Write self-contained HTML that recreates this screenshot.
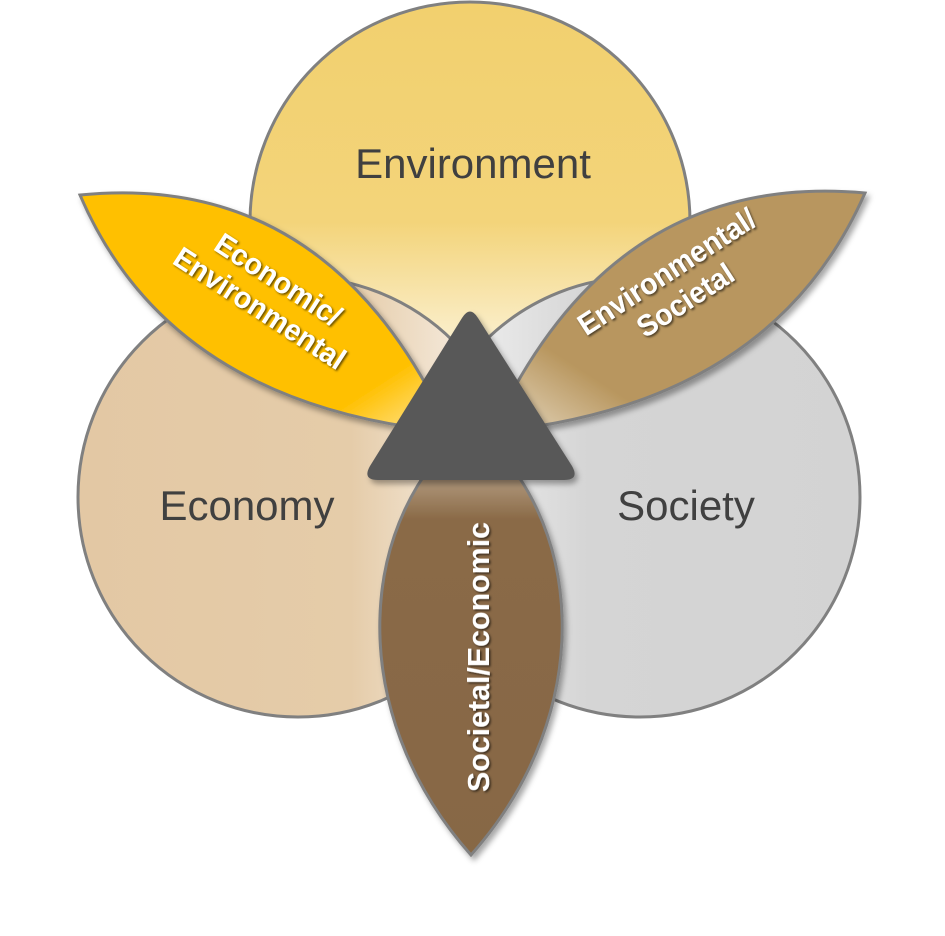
<!DOCTYPE html>
<html><head><meta charset="utf-8"><style>
html,body{margin:0;padding:0;background:#fff;}
svg{display:block;}
text{font-family:"Liberation Sans",sans-serif;}
</style></head><body>
<svg width="945" height="936" viewBox="0 0 945 936">
<defs>
  <linearGradient id="gEnv" x1="0" y1="0" x2="0" y2="1">
    <stop offset="0" stop-color="#F2D06E"/><stop offset="0.5" stop-color="#F3D47A"/><stop offset="0.78" stop-color="#FBF0D0"/><stop offset="1" stop-color="#FFFFFF"/>
  </linearGradient>
  <linearGradient id="gEco" x1="0" y1="0.5" x2="1" y2="0.5">
    <stop offset="0" stop-color="#E3C8A4"/><stop offset="0.62" stop-color="#E5CCA9"/><stop offset="0.88" stop-color="#F5EADC"/><stop offset="1" stop-color="#FFFFFF"/>
  </linearGradient>
  <linearGradient id="gSoc" x1="1" y1="0.5" x2="0" y2="0.5">
    <stop offset="0" stop-color="#D3D3D3"/><stop offset="0.62" stop-color="#D5D5D5"/><stop offset="0.88" stop-color="#EDEDED"/><stop offset="1" stop-color="#FFFFFF"/>
  </linearGradient>
  <linearGradient id="gL" x1="0" y1="0" x2="1" y2="1">
    <stop offset="0" stop-color="#FFC000"/><stop offset="0.8" stop-color="#FFC000"/><stop offset="1" stop-color="#FFE9A8"/>
  </linearGradient>
  <linearGradient id="gR" x1="1" y1="0" x2="0" y2="1">
    <stop offset="0" stop-color="#B8965E"/><stop offset="0.75" stop-color="#B8965E"/><stop offset="1" stop-color="#E8DCC6"/>
  </linearGradient>
  <linearGradient id="gB" x1="0" y1="1" x2="0" y2="0">
    <stop offset="0" stop-color="#876745"/><stop offset="0.78" stop-color="#8A6A47"/><stop offset="1" stop-color="#E0D2C0"/>
  </linearGradient>
  <filter id="sh" x="-20%" y="-20%" width="140%" height="140%">
    <feDropShadow dx="3" dy="4" stdDeviation="3" flood-color="#000" flood-opacity="0.35"/>
  </filter>
  <filter id="tsh"><feDropShadow dx="1.5" dy="1.5" stdDeviation="1" flood-color="#000" flood-opacity="0.6"/></filter>
</defs>

<circle cx="470" cy="222" r="220" fill="url(#gEnv)" stroke="#808080" stroke-width="3"/>
<circle cx="298" cy="497" r="220" fill="url(#gEco)" stroke="#808080" stroke-width="3"/>
<circle cx="640" cy="497" r="220" fill="url(#gSoc)" stroke="#808080" stroke-width="3"/>

<text x="473" y="178" font-size="42" fill="#404040" text-anchor="middle">Environment</text>
<text x="247" y="520" font-size="42" fill="#404040" text-anchor="middle">Economy</text>
<text x="686" y="520" font-size="42" fill="#404040" text-anchor="middle">Society</text>

<path d="M80,195 Q330,170 450,432 Q170,405 80,195 Z" fill="url(#gL)" stroke="#808080" stroke-width="3" filter="url(#sh)"/>
<path d="M865,193 Q612,170 492,432 Q772,405 865,193 Z" fill="url(#gR)" stroke="#808080" stroke-width="3" filter="url(#sh)"/>
<path d="M471,425 C585,515 600,710 471,855 C342,710 357,515 471,425 Z" fill="url(#gB)" stroke="#808080" stroke-width="3" filter="url(#sh)"/>

<path d="M462,318 Q470,305 478,318 L572,466 Q580,480 564,480 L378,480 Q362,480 370,466 Z" fill="#595959" filter="url(#sh)"/>

<g filter="url(#tsh)" fill="#fff" font-weight="bold" text-anchor="middle">
  <text font-size="30" transform="translate(265,300) rotate(33) scale(0.95,1)"><tspan x="0" y="-14">Economic/</tspan><tspan x="0" y="20">Environmental</tspan></text>
  <text font-size="30" transform="translate(680,292) rotate(-33) scale(0.95,1)"><tspan x="0" y="-14">Environmental/</tspan><tspan x="0" y="20">Societal</tspan></text>
  <text font-size="31" transform="translate(489,657) rotate(-90) scale(0.98,1)" x="0" y="0">Societal/Economic</text>
</g>
</svg>
</body></html>
